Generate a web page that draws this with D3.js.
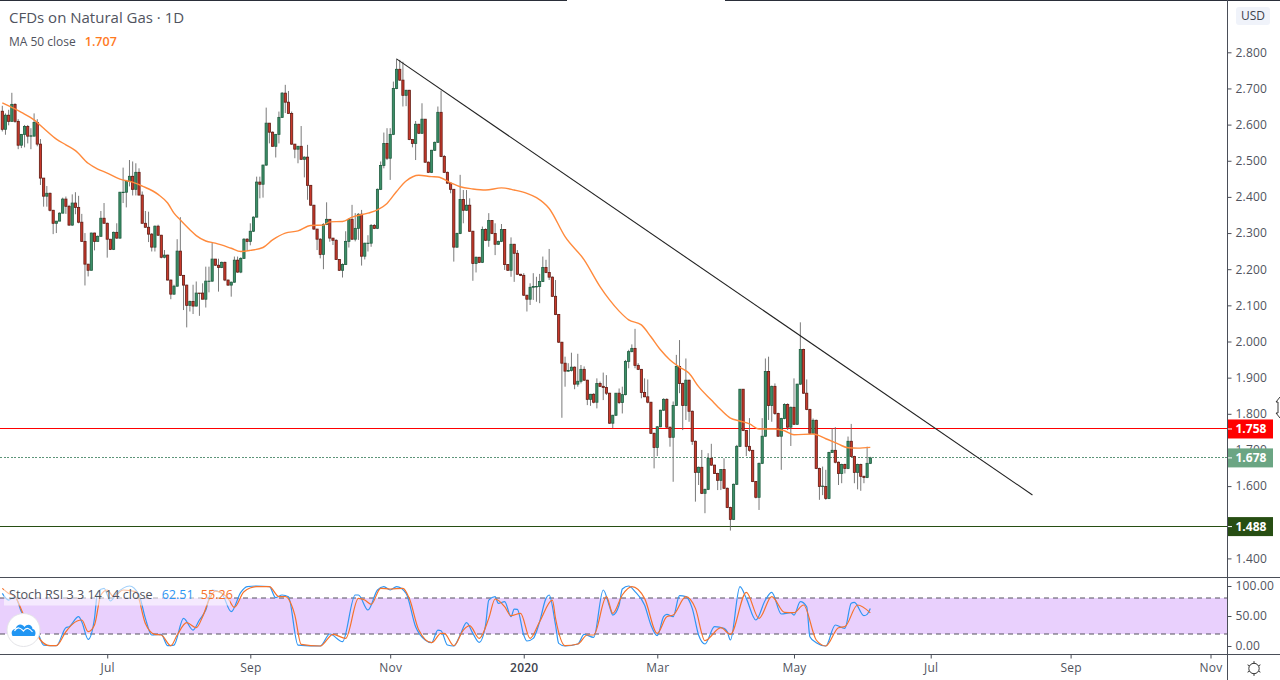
<!DOCTYPE html>
<html lang="en">
<head>
<meta charset="UTF-8">
<title>CFDs on Natural Gas - 1D</title>
<script src="https://cdn.jsdelivr.net/npm/d3@7"></script>
<style>
  html, body { margin: 0; padding: 0; background: #fff; overflow: hidden; }
  text { font-family: "Open Sans", "Noto Sans", sans-serif; }
</style>
</head>
<body>
<div id="chart"></div>
<script>

var opens = [
2.637,2.587,2.626,2.609,2.656,2.609,2.543,2.573,2.595,2.568,
2.568,2.606,2.546,2.452,2.402,2.410,2.363,2.327,2.333,2.355,
2.394,2.374,2.322,2.383,2.371,2.330,2.277,2.214,2.197,2.300,
2.277,2.291,2.341,2.327,2.283,2.255,2.302,2.286,2.413,2.413,
2.443,2.457,2.421,2.468,2.405,2.327,2.316,2.297,2.261,2.319,
2.294,2.233,2.239,2.170,2.131,2.153,2.250,2.183,2.156,2.100,
2.111,2.098,2.134,2.134,2.117,2.167,2.167,2.228,2.211,2.205,
2.219,2.170,2.156,2.164,2.225,2.192,2.230,2.283,2.277,2.305,
2.344,2.441,2.435,2.488,2.604,2.579,2.540,2.573,2.620,2.687,
2.662,2.631,2.546,2.532,2.540,2.504,2.510,2.432,2.377,2.311,
2.283,2.241,2.324,2.338,2.286,2.280,2.227,2.197,2.213,2.277,
2.338,2.283,2.313,2.352,2.236,2.272,2.272,2.321,2.313,2.421,
2.487,2.548,2.507,2.573,2.700,2.753,2.723,2.681,2.695,2.559,
2.548,2.601,2.576,2.615,2.496,2.468,2.529,2.551,2.634,2.512,
2.468,2.438,2.421,2.261,2.299,2.393,2.363,2.377,2.305,2.216,
2.233,2.219,2.310,2.280,2.335,2.299,2.269,2.277,2.310,2.213,
2.197,2.269,2.244,2.186,2.183,2.128,2.117,2.150,2.152,2.152,
2.166,2.205,2.191,2.178,2.125,2.075,1.998,1.940,1.918,1.920,
1.929,1.882,1.890,1.923,1.893,1.840,1.854,1.832,1.884,1.876,
1.873,1.857,1.774,1.796,1.857,1.831,1.853,1.945,1.972,1.981,
1.934,1.923,1.859,1.847,1.832,1.746,1.707,1.764,1.810,1.840,
1.763,1.735,1.823,1.931,1.884,1.823,1.893,1.807,1.724,1.638,
1.652,1.580,1.591,1.677,1.658,1.635,1.616,1.646,1.594,1.541,
1.508,1.605,1.710,1.868,1.754,1.710,1.699,1.613,1.569,1.663,
1.738,1.917,1.823,1.876,1.801,1.738,1.787,1.826,1.763,1.818,
1.771,1.882,1.978,1.857,1.812,1.746,1.782,1.649,1.599,1.599,
1.566,1.693,1.699,1.666,1.635,1.660,1.649,1.724,1.682,1.638,
1.660,1.627,1.624,1.663];

var highs = [
2.652,2.631,2.641,2.688,2.659,2.615,2.574,2.599,2.599,2.590,
2.631,2.615,2.560,2.452,2.430,2.412,2.364,2.333,2.357,2.398,
2.401,2.378,2.407,2.413,2.403,2.353,2.300,2.214,2.301,2.301,
2.293,2.361,2.383,2.329,2.283,2.304,2.327,2.413,2.481,2.447,
2.502,2.498,2.493,2.479,2.415,2.361,2.359,2.300,2.321,2.323,
2.295,2.253,2.240,2.171,2.157,2.283,2.344,2.184,2.157,2.113,
2.157,2.166,2.134,2.161,2.207,2.207,2.274,2.228,2.229,2.221,
2.221,2.171,2.166,2.235,2.235,2.233,2.286,2.286,2.327,2.346,
2.456,2.456,2.489,2.647,2.604,2.581,2.573,2.636,2.690,2.710,
2.693,2.636,2.546,2.541,2.596,2.512,2.544,2.433,2.378,2.311,
2.286,2.327,2.385,2.338,2.286,2.283,2.228,2.216,2.305,2.341,
2.378,2.355,2.355,2.364,2.273,2.294,2.325,2.325,2.423,2.498,
2.578,2.590,2.590,2.719,2.783,2.779,2.774,2.696,2.696,2.559,
2.610,2.602,2.659,2.615,2.498,2.530,2.553,2.650,2.694,2.516,
2.470,2.440,2.421,2.301,2.461,2.419,2.419,2.396,2.306,2.235,
2.234,2.318,2.313,2.355,2.336,2.327,2.279,2.325,2.311,2.214,
2.288,2.270,2.253,2.187,2.189,2.129,2.161,2.189,2.179,2.187,
2.235,2.226,2.256,2.180,2.170,2.076,1.999,1.958,1.940,1.969,
1.931,1.966,1.935,1.931,1.894,1.855,1.857,1.898,1.889,1.914,
1.907,1.858,1.797,1.857,1.870,1.875,1.949,1.977,1.992,2.035,
1.940,1.924,1.898,1.895,1.833,1.748,1.766,1.811,1.843,1.843,
1.764,1.834,1.963,2.004,1.886,1.953,1.894,1.809,1.726,1.654,
1.700,1.593,1.691,1.717,1.659,1.637,1.647,1.677,1.596,1.543,
1.607,1.714,1.868,1.868,1.755,1.788,1.700,1.614,1.665,1.788,
1.953,1.958,1.878,1.884,1.803,1.789,1.829,1.829,1.820,1.898,
1.883,2.053,1.980,1.895,1.814,1.787,1.784,1.651,1.654,1.645,
1.695,1.760,1.763,1.668,1.662,1.662,1.737,1.772,1.684,1.662,
1.662,1.629,1.709,1.681];

var lows = [
2.581,2.572,2.598,2.609,2.605,2.532,2.535,2.537,2.548,2.532,
2.568,2.540,2.433,2.373,2.373,2.360,2.297,2.300,2.333,2.355,
2.353,2.320,2.320,2.352,2.327,2.276,2.155,2.180,2.197,2.252,
2.277,2.290,2.327,2.232,2.253,2.253,2.284,2.284,2.383,2.371,
2.429,2.404,2.404,2.405,2.327,2.315,2.275,2.249,2.249,2.292,
2.230,2.230,2.169,2.117,2.129,2.152,2.182,2.087,2.039,2.083,
2.076,2.097,2.071,2.117,2.094,2.136,2.165,2.209,2.138,2.203,
2.167,2.154,2.124,2.163,2.190,2.189,2.229,2.253,2.266,2.303,
2.344,2.396,2.398,2.486,2.548,2.539,2.509,2.548,2.619,2.632,
2.631,2.544,2.507,2.493,2.502,2.454,2.392,2.376,2.309,2.253,
2.230,2.200,2.322,2.276,2.267,2.226,2.195,2.177,2.212,2.260,
2.281,2.277,2.281,2.210,2.227,2.249,2.262,2.311,2.311,2.419,
2.479,2.502,2.447,2.571,2.698,2.721,2.650,2.651,2.557,2.537,
2.502,2.574,2.574,2.494,2.466,2.466,2.527,2.549,2.510,2.466,
2.436,2.410,2.221,2.259,2.297,2.327,2.361,2.303,2.168,2.191,
2.217,2.217,2.278,2.262,2.297,2.239,2.267,2.275,2.198,2.195,
2.179,2.165,2.184,2.181,2.126,2.083,2.101,2.115,2.110,2.106,
2.165,2.189,2.170,2.123,2.073,1.996,1.789,1.875,1.916,1.917,
1.868,1.875,1.884,1.891,1.824,1.822,1.829,1.815,1.874,1.838,
1.852,1.772,1.760,1.794,1.827,1.801,1.851,1.926,1.970,1.926,
1.921,1.843,1.846,1.829,1.744,1.649,1.683,1.763,1.808,1.760,
1.709,1.612,1.822,1.857,1.755,1.783,1.778,1.714,1.557,1.603,
1.578,1.525,1.589,1.656,1.634,1.589,1.589,1.592,1.539,1.477,
1.506,1.603,1.708,1.752,1.683,1.695,1.611,1.566,1.534,1.661,
1.736,1.783,1.778,1.797,1.736,1.645,1.785,1.755,1.711,1.769,
1.769,1.880,1.855,1.810,1.744,1.744,1.647,1.562,1.575,1.562,
1.564,1.692,1.663,1.603,1.608,1.635,1.647,1.681,1.608,1.591,
1.587,1.608,1.622,1.661];

var closes = [
2.587,2.626,2.609,2.656,2.609,2.543,2.573,2.595,2.568,2.569,
2.606,2.546,2.452,2.402,2.410,2.363,2.327,2.333,2.355,2.394,
2.374,2.322,2.383,2.371,2.330,2.277,2.214,2.197,2.300,2.277,
2.291,2.341,2.327,2.283,2.255,2.302,2.286,2.413,2.413,2.443,
2.457,2.421,2.468,2.405,2.327,2.316,2.297,2.261,2.319,2.294,
2.233,2.239,2.170,2.131,2.153,2.250,2.183,2.156,2.100,2.111,
2.098,2.134,2.133,2.117,2.167,2.167,2.228,2.211,2.205,2.219,
2.170,2.156,2.164,2.225,2.192,2.230,2.283,2.277,2.305,2.344,
2.441,2.435,2.488,2.604,2.579,2.540,2.573,2.620,2.687,2.662,
2.631,2.546,2.532,2.540,2.504,2.510,2.432,2.377,2.311,2.283,
2.241,2.324,2.338,2.286,2.280,2.227,2.197,2.213,2.277,2.338,
2.283,2.313,2.352,2.236,2.272,2.272,2.321,2.313,2.421,2.487,
2.548,2.507,2.573,2.700,2.753,2.723,2.681,2.695,2.559,2.548,
2.601,2.576,2.615,2.496,2.468,2.529,2.551,2.634,2.512,2.468,
2.438,2.421,2.261,2.299,2.393,2.363,2.377,2.305,2.216,2.233,
2.219,2.310,2.280,2.335,2.299,2.269,2.277,2.310,2.213,2.197,
2.269,2.244,2.186,2.183,2.128,2.117,2.150,2.152,2.152,2.166,
2.205,2.191,2.178,2.125,2.075,1.998,1.940,1.918,1.920,1.929,
1.882,1.890,1.923,1.893,1.840,1.854,1.832,1.884,1.876,1.873,
1.857,1.774,1.796,1.857,1.831,1.853,1.945,1.972,1.981,1.934,
1.923,1.859,1.847,1.832,1.746,1.707,1.764,1.810,1.840,1.763,
1.735,1.823,1.931,1.884,1.823,1.893,1.807,1.724,1.638,1.652,
1.580,1.591,1.677,1.658,1.635,1.616,1.646,1.594,1.541,1.508,
1.605,1.710,1.868,1.754,1.710,1.699,1.613,1.569,1.663,1.738,
1.917,1.823,1.876,1.801,1.738,1.787,1.826,1.763,1.818,1.771,
1.882,1.978,1.857,1.812,1.746,1.782,1.649,1.599,1.600,1.566,
1.693,1.699,1.666,1.635,1.660,1.649,1.724,1.682,1.638,1.660,
1.627,1.624,1.663,1.678];

// moving average, read at the bars where the curve bends
var maBars = [0,6,10,13,17,20,23,27,30,33,37,41,44,49,52,54,56,59,61,64,67,72,75,78,82,85,89,93,97,101,
  103,107,110,115,118,121,124,127,131,135,137,141,144,148,152,157,161,165,168,172,177,183,188,191,194,
  197,201,204,207,210,213,216,219,223,226,229,232,235,238,243,246,249,255,259,263,266,269,273];
var maValues = [2.660,2.634,2.613,2.590,2.560,2.544,2.528,2.493,2.477,2.466,2.449,2.441,2.430,2.407,2.383,2.355,2.336,2.309,2.293,2.278,2.272,2.258,2.249,2.252,2.260,2.281,2.300,2.306,2.321,2.322,
  2.331,2.332,2.344,2.355,2.364,2.382,2.415,2.444,2.460,2.456,2.455,2.439,2.428,2.422,2.419,2.425,2.419,2.410,2.398,2.368,2.290,2.226,2.152,2.115,2.084,
  2.060,2.046,2.013,1.977,1.949,1.929,1.912,1.875,1.838,1.811,1.788,1.780,1.772,1.758,1.758,1.753,1.742,1.744,1.731,1.716,1.706,1.705,1.707];

// stochastic RSI, %K and %D
var kBars = [0,2,4,6,9,11,13,17,20,21,24,25,27,29,30,32,34,36,40,43,45,47,50,52,54,57,60,62,64,66,69,72,75,77,80,84,86,88,90,93,100,103,107,111,112,115,118,120,122,124,127,130,133,135,137,
  138,140,142,144,146,148,150,152,153,155,156,158,160,161,162,164,165,167,169,171,172,174,175,177,181,183,186,189,191,192,194,195,197,199,202,204,206,208,209,211,213,215,217,219,221,224,227,228,229,232,234,237,240,242,245,248,249,251,253,254,256,259,262,265,267,268,271,272,273];
var kValues = [87.7,76.6,82.2,57.2,35,23.9,1.6,0.5,30.5,32.2,48.9,40.5,11.1,46.1,90.5,96.1,75,87.7,100,85,46.1,18.3,19.4,0.5,1.6,46.1,26.6,43.3,60,93.3,87.7,57.2,89.4,98.9,100,98.9,80.5,85,82.2,1.6,0,20,7.2,85,85,60,93.3,98.9,93.3,98.9,87.7,32.2,10,5.5,26.6,
  25.5,1.6,0,18.3,38.9,21,6.1,35,76.6,82.2,71.1,73.9,48.9,61.6,61.1,18.3,8.3,12.7,40.5,79.4,85,35,4.4,0,3.3,19.4,14.4,93.3,65.5,51.6,68.3,95,100,90.5,68.3,35,17.2,48.9,52.7,48.9,83.9,82.2,62.7,18.3,3.3,32.2,29.4,23.9,10,98.9,79.4,43.3,76.6,89.4,53.3,55.5,51.6,73.9,65.5,15.5,5.5,0,35,29.4,71.1,72.7,50.5,52.7,62.51];
var dBars = [0,2,4,7,10,12,15,17,20,22,25,27,29,31,33,35,38,42,45,48,50,53,55,58,61,63,65,67,71,73,76,80,84,87,89,92,94,100,104,108,112,114,116,119,122,126,128,131,135,138,
  139,142,145,147,150,153,155,158,160,163,166,169,173,174,177,181,184,186,190,192,195,198,202,206,209,211,215,218,221,226,229,234,238,242,246,249,252,256,259,263,265,269,273];
var dValues = [96.1,87.7,82.2,48.9,29.4,10,0.5,0.5,23.9,36.1,43.3,23.9,35,85,93.3,82.2,93.3,90.5,37.7,19.4,18.3,0.5,18.3,38.9,30.5,48.9,76.6,91.6,79.4,64.4,90.5,98.9,98.9,82.2,82.2,51.6,2.7,0,19.4,12.7,79.4,76.6,69.4,96.1,95,96.1,79.4,26.6,5.5,21,
  21,0.5,26.6,33.9,12.7,46.1,78.3,65.5,50.5,54.4,12.7,40.5,76.6,46.1,0.5,3.3,18.3,18.3,82.2,54.4,85,98.9,79.4,21,48.9,51.6,82.2,62.7,8.9,30.5,19.4,89.4,46.1,82.2,56,55.5,68.3,10,0,30.5,32.2,68.3,55.26];

// 1.500 sits fully under the support tag in the picture, so it is left out
var priceTicks = [2.8,2.7,2.6,2.5,2.4,2.3,2.2,2.1,2.0,1.9,1.8,1.7,1.6,1.4];
var stochTicks = [100,50,0];
var timeTickBars = [33,78,122,164,206,249,292,336,380];
var timeTickLabels = ["Jul","Sep","Nov","2020","Mar","May","Jul","Sep","Nov"];

var trendBars = [124.1,324];
var trendPrices = [2.781,1.5755];
var resistance = 1.758;
var support = 1.488;
var lastPrice = 1.678;

var width = 1280, height = 680;
var axisX = 1227, priceBottom = 577, stochBottom = 654;

var svg = d3.select("#chart").append("svg")
    .attr("width", width)
    .attr("height", height)
    .style("display", "block");

var xScale = d3.scaleLinear().domain([0, opens.length - 1]).range([2.3, 870.3]);
var yScale = d3.scaleLinear().domain([1.4, 2.8]).range([558.4, 52.3]);
var stochScale = d3.scaleLinear().domain([0, 100]).range([646, 586]);

// clip everything that is plotted to the pane
svg.append("clipPath").attr("id", "pane")
    .append("rect").attr("width", axisX).attr("height", priceBottom);

var pane = svg.append("g").attr("clip-path", "url(#pane)");

// horizontal levels
pane.append("line").attr("x1", 0).attr("x2", axisX)
    .attr("y1", yScale(resistance)).attr("y2", yScale(resistance))
    .attr("stroke", "#ff0000").attr("stroke-width", 1).attr("shape-rendering", "crispEdges");
pane.append("line").attr("x1", 0).attr("x2", axisX)
    .attr("y1", yScale(support)).attr("y2", yScale(support))
    .attr("stroke", "#274e13").attr("stroke-width", 1).attr("shape-rendering", "crispEdges");
pane.append("line").attr("x1", 0).attr("x2", axisX)
    .attr("y1", yScale(lastPrice)).attr("y2", yScale(lastPrice))
    .attr("stroke", "#5d9579").attr("stroke-width", 1).attr("stroke-dasharray", "2,1.5").attr("shape-rendering", "crispEdges");

// candles
var candles = pane.selectAll("g.candle")
    .data(opens.map(function(o, i) { return {i: i, o: o, h: highs[i], l: lows[i], c: closes[i]}; }))
    .enter().append("g").attr("class", "candle");

candles.append("line")
    .attr("x1", function(d) { return xScale(d.i); })
    .attr("x2", function(d) { return xScale(d.i); })
    .attr("y1", function(d) { return yScale(d.h); })
    .attr("y2", function(d) { return yScale(d.l); })
    .attr("stroke", "#6b6b6b")
    .attr("stroke-width", 0.9);

candles.append("rect")
    .attr("x", function(d) { return xScale(d.i) - 1.1; })
    .attr("width", 2.2)
    .attr("y", function(d) { return yScale(Math.max(d.o, d.c)); })
    .attr("height", function(d) { return Math.max(Math.abs(yScale(d.o) - yScale(d.c)), 0.4); })
    .attr("fill", function(d) { return d.c >= d.o ? "#3c8f68" : "#c8392b"; })
    .attr("stroke", function(d) { return d.c >= d.o ? "#1e5c3f" : "#611a12"; })
    .attr("stroke-width", 0.8);

// moving average
var maLine = d3.line()
    .x(function(d) { return xScale(d); })
    .y(function(d, i) { return yScale(maValues[i]); })
    .curve(d3.curveMonotoneX);

pane.append("path").attr("d", maLine(maBars))
    .attr("fill", "none").attr("stroke", "#ff8a3c").attr("stroke-width", 1.4);

// trend line
pane.append("line")
    .attr("x1", xScale(trendBars[0])).attr("y1", yScale(trendPrices[0]))
    .attr("x2", xScale(trendBars[1])).attr("y2", yScale(trendPrices[1]))
    .attr("stroke", "#222").attr("stroke-width", 1.1);

// stoch pane
svg.append("rect").attr("x", 0).attr("width", axisX)
    .attr("y", stochScale(80)).attr("height", stochScale(20) - stochScale(80))
    .attr("fill", "#e9d0fd");

[80, 20].forEach(function(v) {
    svg.append("line").attr("x1", 0).attr("x2", axisX)
        .attr("y1", stochScale(v)).attr("y2", stochScale(v))
        .attr("stroke", "#55505e").attr("stroke-width", 1).attr("stroke-dasharray", "5,4");
});

var kLine = d3.line().x(function(d) { return xScale(d); })
    .y(function(d, i) { return stochScale(kValues[i]); })
    .curve(d3.curveMonotoneX);
var dLine = d3.line().x(function(d) { return xScale(d); })
    .y(function(d, i) { return stochScale(dValues[i]); })
    .curve(d3.curveMonotoneX);

svg.append("path").attr("d", kLine(kBars))
    .attr("fill", "none").attr("stroke", "#2f96f3").attr("stroke-width", 1.2);
svg.append("path").attr("d", dLine(dBars))
    .attr("fill", "none").attr("stroke", "#f5722b").attr("stroke-width", 1.2);

// frame
var frame = "#4a4e58";
svg.append("line").attr("x1", 0).attr("x2", 567).attr("y1", 0.5).attr("y2", 0.5).attr("stroke", "#2a2e39");
svg.append("line").attr("x1", 725).attr("x2", width).attr("y1", 0.5).attr("y2", 0.5).attr("stroke", "#2a2e39");
svg.append("line").attr("x1", 0).attr("x2", width).attr("y1", priceBottom + 0.5).attr("y2", priceBottom + 0.5).attr("stroke", frame);
svg.append("line").attr("x1", 0).attr("x2", width).attr("y1", stochBottom + 0.5).attr("y2", stochBottom + 0.5).attr("stroke", frame);
svg.append("line").attr("x1", axisX + 0.5).attr("x2", axisX + 0.5).attr("y1", 0).attr("y2", height).attr("stroke", frame);

// axes
function styleAxis(g, size) {
    g.select(".domain").remove();
    g.selectAll(".tick line").attr("stroke", frame);
    g.selectAll(".tick text").attr("fill", "#50535e").style("font-size", size + "px").style("letter-spacing", "0.2px");
}

var priceAxis = svg.append("g")
    .attr("transform", "translate(" + (axisX + 0.5) + ",0)")
    .call(d3.axisRight(yScale).tickValues(priceTicks).tickFormat(d3.format(".3f")).tickSize(4).tickPadding(4));
styleAxis(priceAxis, 12);

var stochAxis = svg.append("g")
    .attr("transform", "translate(" + (axisX + 0.5) + ",0)")
    .call(d3.axisRight(stochScale).tickValues(stochTicks).tickFormat(d3.format(".2f")).tickSize(4).tickPadding(4));
styleAxis(stochAxis, 12);

var timeAxis = svg.append("g")
    .attr("transform", "translate(0," + (stochBottom + 0.5) + ")")
    .call(d3.axisBottom(xScale).tickValues(timeTickBars)
        .tickFormat(function(d, i) { return timeTickLabels[i]; }).tickSize(4).tickPadding(5));
styleAxis(timeAxis, 12);
timeAxis.selectAll(".tick text")
    .attr("font-weight", function(d, i) { return timeTickLabels[i] == "2020" ? 600 : 400; })
    .attr("fill", function(d, i) { return timeTickLabels[i] == "2020" ? "#3e424d" : "#50535e"; });

// price tags
function priceTag(value, fill) {
    var y = yScale(value);
    svg.append("rect").attr("x", axisX + 1).attr("y", y - 9.5).attr("width", 45).attr("height", 19).attr("fill", fill);
    svg.append("line").attr("x1", axisX + 1).attr("x2", axisX + 5).attr("y1", y).attr("y2", y).attr("stroke", "#fff");
    svg.append("text").attr("x", axisX + 8.5).attr("y", y + 4.3)
        .attr("fill", "#fff").attr("font-size", 12).attr("font-weight", 700)
        .text(d3.format(".3f")(value));
}
priceTag(resistance, "#ff0000");
priceTag(lastPrice, "#6ba583");
priceTag(support, "#274e13");

svg.append("rect").attr("x", 1236).attr("y", 7).attr("width", 34).attr("height", 18).attr("rx", 3).attr("fill", "#f0f3fa");
svg.append("text").attr("x", 1253).attr("y", 20).attr("text-anchor", "middle")
    .attr("font-size", 12).attr("fill", "#3e424d").text("USD");

// legends
svg.append("text").attr("x", 9).attr("y", 23).attr("font-size", 15).attr("fill", "#50535e")
    .text("CFDs on Natural Gas · 1D");
var maLegend = svg.append("text").attr("x", 9).attr("y", 46).attr("font-size", 12).attr("fill", "#50535e");
maLegend.append("tspan").text("MA 50 close");
maLegend.append("tspan").attr("dx", 9).attr("fill", "#ff7a1f").attr("font-weight", 600).attr("font-size", 12.5).text("1.707");

svg.append("rect").attr("x", 4).attr("y", 584).attr("width", 226).attr("height", 21.5)
    .attr("fill", "#fff").attr("opacity", 0.55);
var stochLegend = svg.append("text").attr("x", 9).attr("y", 599).attr("font-size", 12.6).attr("fill", "#50535e");
stochLegend.append("tspan").text("Stoch RSI 3 3 14 14 close");
stochLegend.append("tspan").attr("dx", 9).attr("fill", "#2f96f3").text("62.51");
stochLegend.append("tspan").attr("dx", 7).attr("fill", "#f5722b").text("55.26");

// logo bubble
var logo = svg.append("g").attr("transform", "translate(23.5,630)");
logo.append("circle").attr("r", 16.5).attr("fill", "#fff").attr("stroke", "#e4e4e8");
logo.append("path")
    .attr("d", "M-11,6 C-13,2 -11,-1 -8,-1 C-6,-7 -1,-6 1,-3 C4,-7 9,-5 9,-1 C12,-1 13,4 11,6 Z")
    .attr("fill", "#2196f3");
logo.append("path")
    .attr("d", "M-9,1 C-6,-4 -3,-2 0,1 C3,-3 6,-2 9,2")
    .attr("fill", "none").attr("stroke", "#fff").attr("stroke-width", 1.2);

// settings gear
var gear = svg.append("g").attr("transform", "translate(1254,668.5)");
gear.append("circle").attr("r", 5.2).attr("fill", "none").attr("stroke", "#333").attr("stroke-width", 1);
d3.range(0, 6).forEach(function(i) {
    var a = i * Math.PI / 3 + Math.PI / 2;
    gear.append("line")
        .attr("x1", 5.2 * Math.cos(a)).attr("y1", 5.2 * Math.sin(a))
        .attr("x2", 7.4 * Math.cos(a)).attr("y2", 7.4 * Math.sin(a))
        .attr("stroke", "#333");
});

// cursor sliver at the right edge
svg.append("path")
    .attr("d", "M1280,397 L1276,402 L1278,402 L1278,413 L1276,413 L1280,418")
    .attr("fill", "#fff").attr("stroke", "#222").attr("stroke-width", 0.9);

</script>
</body>
</html>
